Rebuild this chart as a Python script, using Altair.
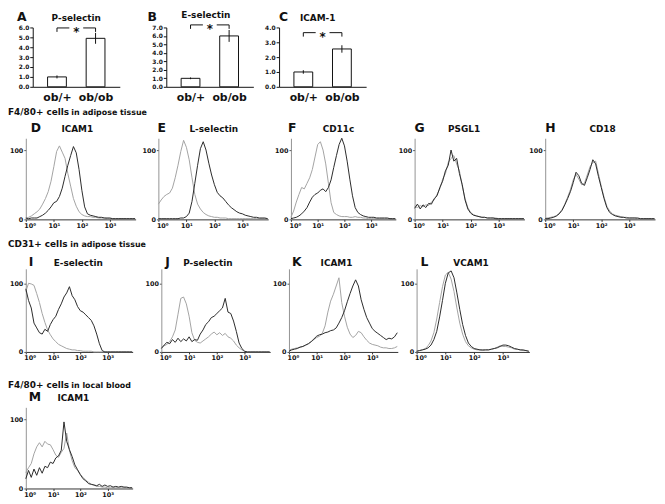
import json
import altair as alt
import pandas as pd

FONT = "DejaVu Sans"
INK = "#111111"
GREY_LINE = "#a3a3a3"
BLACK_LINE = "#2b2b2b"

# ---------------- data: bar charts A-C ----------------
groups = ["ob/+", "ob/ob"]
bar_letters = ["A", "B", "C"]
bar_titles = ["P-selectin", "E-selectin", "ICAM-1"]
bar_means = [[1.0, 4.9], [1.0, 6.0], [1.0, 2.55]]
bar_errors = [[0.15, 0.55], [0.1, 0.7], [0.12, 0.25]]
bar_axis_max = [6, 7, 4]
bracket_level = [5.95, 7.3, 3.65]
bracket_sign = ["*", "*", "*"]

# ---------------- data: flow cytometry histograms D-M ----------------
log_channel = [0.0, 0.1, 0.2, 0.3, 0.4, 0.5, 0.6, 0.7, 0.8, 0.9,
               1.0, 1.1, 1.2, 1.3, 1.4, 1.5, 1.6, 1.7, 1.8, 1.9,
               2.0, 2.1, 2.2, 2.3, 2.4, 2.5, 2.6, 2.7, 2.8, 2.9,
               3.0, 3.1, 3.2, 3.3, 3.4, 3.5, 3.6, 3.7, 3.8, 3.9]
tick_values = [1, 10, 100, 1000]
tick_labels = ["10⁰", "10¹", "10²", "10³"]

hist_letters = ["D", "E", "F", "G", "H", "I", "J", "K", "L", "M"]
hist_titles = ["ICAM1", "L-selectin", "CD11c", "PSGL1", "CD18",
               "E-selectin", "P-selectin", "ICAM1", "VCAM1", "ICAM1"]
grey_D = [1, 3, 5, 8, 11, 15, 22, 30, 40, 55, 76, 98, 106, 97, 88, 66, 48, 30, 19, 11,
          7, 5, 4, 4, 3, 3, 2, 2, 2, 1, 1, 1, 1, 1, 1, 1, 1, 1, 1, 1]
black_D = [2, 1, 2, 2, 2, 4, 6, 9, 13, 18, 24, 26, 33, 45, 62, 78, 92, 105, 96, 72,
           42, 18, 8, 6, 5, 4, 3, 3, 2, 2, 2, 1, 1, 1, 1, 1, 1, 1, 1, 1]
grey_E = [22, 28, 33, 36, 38, 45, 60, 78, 98, 114, 104, 86, 60, 36, 22, 15, 10, 7, 5, 4,
          3, 3, 2, 2, 2, 1, 1, 1, 1, 1, 1, 1, 1, 1, 1, 1, 1, 1, 1, 1]
black_E = [1, 1, 1, 1, 1, 1, 1, 1, 2, 2, 4, 9, 26, 52, 78, 102, 112, 100, 81, 64,
           50, 39, 34, 31, 26, 21, 17, 14, 11, 9, 8, 6, 5, 4, 3, 3, 2, 2, 2, 1]
grey_F = [3, 12, 25, 36, 46, 44, 52, 60, 72, 90, 108, 112, 100, 80, 52, 24, 10, 7, 5, 4,
          4, 4, 3, 3, 4, 3, 3, 2, 2, 1, 1, 1, 1, 1, 1, 1, 1, 1, 1, 1]
black_F = [1, 2, 3, 5, 8, 12, 17, 25, 32, 36, 38, 42, 44, 40, 46, 57, 75, 92, 108, 117,
           106, 84, 58, 34, 17, 10, 7, 5, 4, 3, 3, 3, 2, 2, 2, 2, 2, 1, 1, 1]
grey_G = [19, 17, 20, 18, 21, 20, 25, 28, 36, 44, 58, 66, 82, 88, 92, 80, 70, 48, 30, 17,
          10, 7, 5, 4, 3, 3, 2, 2, 2, 2, 1, 1, 1, 1, 1, 1, 1, 1, 1, 1]
black_G = [16, 22, 15, 21, 17, 23, 22, 30, 34, 46, 55, 70, 78, 100, 84, 88, 66, 50, 28, 15,
           9, 6, 5, 4, 3, 3, 2, 2, 2, 1, 1, 1, 1, 1, 1, 1, 1, 1, 1, 1]
grey_H = [2, 2, 3, 4, 5, 9, 14, 22, 32, 43, 57, 65, 58, 50, 52, 64, 76, 82, 84, 66,
          48, 32, 19, 12, 8, 6, 5, 4, 3, 3, 2, 2, 2, 1, 1, 1, 1, 1, 1, 1]
black_H = [1, 1, 2, 3, 5, 8, 13, 21, 30, 40, 53, 68, 63, 52, 49, 60, 72, 86, 80, 62,
           46, 30, 17, 10, 7, 5, 4, 3, 3, 2, 2, 2, 2, 2, 1, 1, 1, 1, 1, 1]
grey_I = [88, 100, 99, 97, 85, 72, 56, 43, 32, 25, 19, 15, 11, 9, 7, 5, 4, 3, 3, 2,
          2, 1, 1, 1, 1, 0, 0, 0, 0, 0, 0, 0, 0, 0, 0, 0, 0, 0, 0, 0]
black_I = [92, 75, 64, 42, 35, 28, 26, 33, 30, 40, 47, 52, 62, 70, 80, 86, 95, 82, 76, 66,
           60, 58, 54, 50, 46, 38, 26, 12, 2, 0, 0, 0, 0, 0, 0, 0, 0, 0, 0, 0]
grey_J = [6, 9, 11, 15, 22, 32, 55, 78, 80, 70, 52, 28, 17, 14, 13, 16, 19, 22, 26, 29,
          25, 28, 24, 27, 22, 20, 16, 10, 6, 3, 1, 0, 0, 0, 0, 0, 0, 0, 0, 0]
black_J = [5, 10, 14, 12, 18, 14, 20, 15, 19, 16, 22, 15, 18, 17, 26, 32, 40, 44, 50, 52,
           56, 60, 64, 78, 58, 56, 45, 30, 13, 5, 1, 0, 0, 0, 0, 0, 0, 0, 0, 0]
grey_K = [3, 4, 5, 6, 7, 8, 10, 12, 15, 18, 21, 23, 27, 38, 58, 74, 84, 96, 108, 72,
          52, 36, 26, 21, 24, 30, 28, 22, 17, 13, 11, 10, 9, 7, 6, 6, 5, 5, 6, 8]
black_K = [1, 3, 4, 5, 7, 8, 10, 12, 15, 19, 23, 25, 26, 28, 29, 31, 32, 35, 42, 50,
           60, 73, 85, 96, 105, 96, 76, 62, 50, 42, 34, 30, 27, 24, 21, 18, 20, 19, 22, 28]
grey_L = [1, 2, 3, 5, 9, 16, 28, 48, 72, 95, 112, 116, 106, 88, 64, 42, 26, 15, 9, 6,
          4, 3, 3, 2, 3, 3, 4, 5, 7, 9, 8, 8, 7, 6, 4, 4, 3, 2, 2, 1]
black_L = [1, 2, 3, 4, 6, 10, 18, 30, 51, 75, 100, 115, 118, 108, 86, 62, 40, 24, 13, 8,
           5, 4, 3, 3, 3, 3, 4, 5, 6, 8, 10, 10, 9, 7, 5, 4, 3, 3, 2, 1]
grey_M = [23, 30, 36, 50, 60, 66, 60, 68, 64, 63, 56, 48, 45, 52, 58, 80, 55, 40, 30, 26,
          20, 16, 12, 9, 6, 5, 3, 3, 2, 2, 1, 1, 1, 1, 1, 1, 1, 1, 1, 1]
black_M = [14, 26, 16, 28, 19, 30, 22, 32, 30, 38, 36, 44, 47, 55, 96, 68, 56, 46, 34, 27,
           20, 14, 11, 7, 6, 5, 4, 6, 3, 5, 3, 4, 2, 3, 2, 3, 2, 2, 1, 1]
grey_series = [grey_D, grey_E, grey_F, grey_G, grey_H, grey_I, grey_J, grey_K, grey_L, grey_M]
black_series = [black_D, black_E, black_F, black_G, black_H, black_I, black_J, black_K, black_L, black_M]

row_headings = [["F4/80+ cells", "in adipose tissue"],
                ["CD31+ cells", "in adipose tissue"],
                ["F4/80+ cells", "in local blood"]]

# ---------------- layout (pixels) ----------------
bar_layout = {"A": (-16, 44, -7, -7), "B": (-19, 40, -7, -10), "C": (0, 39, -7, -7)}
BAR_W, BAR_H = 88, 60
hist_layout = {  # letter x, title centre x, width
    "D": (5, 52, 111), "E": (-1, 56, 111), "F": (-3, 48, 106), "G": (0, 50, 111),
    "H": (0, 58, 111), "I": (3, 53, 108), "J": (4, 47, 110), "K": (3, 48, 110),
    "L": (4, 55, 114), "M": (3, 48, 108)}
row_geom = {2: (82, 117, -6), 3: (84, 121, -3), 4: (82, 117, -6)}

TXT = pd.DataFrame({"k": [0]})


def label(text, x, y, size, align="left"):
    return alt.Chart(TXT).mark_text(
        align=align, baseline="alphabetic", font=FONT, fontSize=size,
        fontWeight="bold", color=INK
    ).encode(x=alt.value(x), y=alt.value(y), text=alt.value(text))


def spacer(w, h=1):
    return alt.Chart(TXT).mark_rule(opacity=0).encode(
        x=alt.value(0), x2=alt.value(w), y=alt.value(0)
    ).properties(width=w, height=h)


def heading(parts, h, y, second_x):
    return alt.layer(
        alt.Chart(TXT).mark_rule(opacity=0).encode(
            x=alt.value(0), x2=alt.value(10), y=alt.value(0)),
        label(parts[0], 0, y, 9),
        label(parts[1], second_x, y, 8),
    ).properties(width=10, height=h)


def bar_panel(i):
    ymax = bar_axis_max[i]
    pos = list(range(len(groups)))
    df = pd.DataFrame({
        "pos": pos,
        "mean": bar_means[i],
        "lo": [m - e for m, e in zip(bar_means[i], bar_errors[i])],
        "hi": [m + e for m, e in zip(bar_means[i], bar_errors[i])],
    })
    xs = alt.Scale(domain=[-0.5, len(groups) - 0.5], nice=False, zero=False)
    ys = alt.Scale(domain=[0, ymax], nice=False)
    x_axis = alt.Axis(values=pos, labelExpr=json.dumps(groups) + "[datum.value]",
                      title=None, grid=False, ticks=False, domainColor=INK,
                      labelFont=FONT, labelFontSize=11, labelFontWeight="bold",
                      labelColor=INK, labelPadding=5, labelFlush=False)
    y_axis = alt.Axis(values=list(range(ymax + 1)), format=".1f", title=None, grid=False,
                      tickSize=3, tickColor=INK, domainColor=INK, labelFont=FONT,
                      labelFontSize=6, labelFontWeight="bold", labelColor=INK,
                      labelPadding=1)

    def X(f):
        return alt.X(f, scale=xs, axis=x_axis)

    def Y(f):
        return alt.Y(f, scale=ys, axis=y_axis)

    base = alt.Chart(df)
    bars = base.mark_bar(size=19, fill="white", stroke=INK, strokeWidth=1,
                         orient="vertical").encode(x=X("pos:Q"), y=Y("mean:Q"))
    err = base.mark_rule(color=INK).encode(x=X("pos:Q"), y=Y("lo:Q"), y2="hi:Q")

    level = bracket_level[i]
    bdf = pd.DataFrame({"x0": [pos[0]], "x1": [pos[-1]], "y": [level]})
    bdf["xm"] = (bdf["x0"] + bdf["x1"]) / 2
    bb = alt.Chart(bdf)
    seg_l = bb.mark_rule(color=INK, x2Offset=-7).encode(x=X("x0:Q"), x2="xm:Q", y=Y("y:Q"))
    seg_r = bb.mark_rule(color=INK, xOffset=7).encode(x=X("xm:Q"), x2="x1:Q", y=Y("y:Q"))
    edf = pd.DataFrame({"pos": [pos[0], pos[-1]], "y": [level, level]})
    ends = alt.Chart(edf).mark_rule(color=INK, y2Offset=4).encode(
        x=X("pos:Q"), y=Y("y:Q"), y2="y:Q")
    star = bb.mark_text(text=bracket_sign[i], font=FONT, fontSize=12, fontWeight="bold",
                        color=INK, dy=4).encode(x=X("xm:Q"), y=Y("y:Q"))
    lx, tx, ly, ty = bar_layout[bar_letters[i]]
    return alt.layer(
        bars, err, seg_l, seg_r, ends, star,
        label(bar_letters[i], lx, ly, 12.5),
        label(bar_titles[i], tx, ty, 9, align="center"),
    ).properties(width=BAR_W, height=BAR_H)


def hist_panel(j, row):
    letter = hist_letters[j]
    lx, tx, w = hist_layout[letter]
    h, ymax, ty = row_geom[row]
    df = pd.DataFrame({
        "fl": [10 ** d for d in log_channel],
        "grey": grey_series[j],
        "black": black_series[j],
    })
    xs = alt.Scale(type="log", domain=[1, 8300], nice=False)
    ys = alt.Scale(domain=[0, ymax], nice=False)
    label_expr = (json.dumps(tick_labels, ensure_ascii=False) + "[indexof("
                  + json.dumps(tick_values) + ", datum.value)]")
    x_axis = alt.Axis(values=tick_values, labelExpr=label_expr, title=None, grid=False,
                      tickSize=2, tickColor="#333333", domainColor="#333333",
                      labelFont=FONT, labelFontSize=6.5, labelFontWeight="bold",
                      labelColor=INK, labelPadding=1, labelFlush=True,
                      labelFlushOffset=2)
    y_axis = alt.Axis(values=[0, 100], title=None, grid=False, tickSize=2,
                      tickColor="#555555", domainColor="#777777", domainWidth=0.8,
                      labelFont=FONT, labelFontSize=6.5, labelFontWeight="bold",
                      labelColor=INK, labelPadding=1)
    base = alt.Chart(df)
    grey = base.mark_line(color=GREY_LINE, strokeWidth=1).encode(
        x=alt.X("fl:Q", scale=xs, axis=x_axis),
        y=alt.Y("grey:Q", scale=ys, axis=y_axis))
    black = base.mark_line(color=BLACK_LINE, strokeWidth=1).encode(
        x=alt.X("fl:Q", scale=xs, axis=x_axis),
        y=alt.Y("black:Q", scale=ys, axis=y_axis))
    return alt.layer(
        grey, black, label(letter, lx, ty, 12.5),
        label(hist_titles[j], tx, ty, 9, align="center"),
    ).properties(width=w, height=h)


A, B, C = (bar_panel(i) for i in range(3))
D, E, F, G, H = (hist_panel(j, 2) for j in range(0, 5))
I, J, K, L = (hist_panel(j, 3) for j in range(5, 9))
M = hist_panel(9, 4)

row1 = alt.hconcat(spacer(9), A, spacer(28), B, spacer(11), C, spacing=0)
row2 = alt.hconcat(spacer(1), D, spacer(4), E, spacer(4), F, G, spacer(2), H, spacing=0)
row3 = alt.hconcat(spacer(1), I, spacer(10), J, K, L, spacing=0)
row4 = alt.hconcat(spacer(1), M, spacing=0)

chart = alt.vconcat(
    row1,
    heading(row_headings[0], 20, 13, 64),
    row2,
    heading(row_headings[1], 27, 18, 63),
    row3,
    heading(row_headings[2], 30, 26, 64),
    row4,
    spacing=0,
).properties(padding=0).configure_view(stroke=None)

chart.save("out.html", embed_options={"renderer": "svg", "actions": False})
